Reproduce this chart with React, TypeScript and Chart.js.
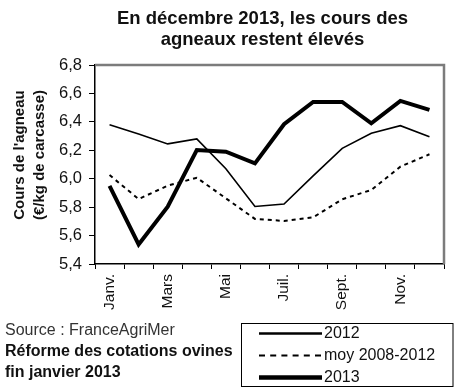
import React, { useEffect, useRef } from 'react';
import { Chart, registerables } from 'chart.js';

Chart.register(...registerables);

const months = ['Janv.', 'Févr.', 'Mars', 'Avr.', 'Mai', 'Juin', 'Juil.', 'Août', 'Sept.', 'Oct.', 'Nov.', 'Déc.'];
const series2012 = [6.38, 6.315, 6.245, 6.28, 6.07, 5.805, 5.822, 6.02, 6.214, 6.32, 6.373, 6.296];
const seriesMoy = [6.026, 5.857, 5.951, 6.007, 5.862, 5.717, 5.703, 5.728, 5.855, 5.921, 6.085, 6.172];
const series2013 = [5.949, 5.538, 5.803, 6.202, 6.19, 6.108, 6.383, 6.54, 6.54, 6.39, 6.547, 6.484];
const seriesNames = ['2012', 'moy 2008-2012', '2013'];
const yMin = 5.4;
const yMax = 6.8;
const yStep = 0.2;
const titleLines = ['En décembre 2013, les cours des', 'agneaux restent élevés'];
const yTitleLines = ["Cours de l'agneau", '(€/kg de carcasse)'];
const sourceLine = 'Source : FranceAgriMer';
const noteLines = ['Réforme des cotations ovines', 'fin janvier 2013'];

const FONT = '"Liberation Sans", Arial, Helvetica, sans-serif';

const legendStyles = [
  { width: 2.5, dash: [] as number[] },
  { width: 2, dash: [6, 5.2] },
  { width: 4.5, dash: [] as number[] },
];

const decorPlugin = {
  id: 'decor',
  beforeDraw(chart: any) {
    const ctx = chart.ctx;
    ctx.save();
    ctx.fillStyle = '#ffffff';
    ctx.fillRect(0, 0, chart.width, chart.height);
    ctx.restore();
  },
  afterDraw(chart: any) {
    const ctx = chart.ctx as CanvasRenderingContext2D;
    const a = chart.chartArea;
    ctx.save();
    // gray frame top & right
    ctx.strokeStyle = '#7c7c7c';
    ctx.lineWidth = 2.5;
    ctx.beginPath();
    ctx.moveTo(a.left, a.top);
    ctx.lineTo(a.right, a.top);
    ctx.lineTo(a.right, a.bottom);
    ctx.stroke();

    // title
    ctx.fillStyle = '#111';
    ctx.font = `bold 18.5px ${FONT}`;
    ctx.textAlign = 'center';
    ctx.textBaseline = 'alphabetic';
    titleLines.forEach((t, i) => ctx.fillText(t, 262.5, 24 + i * 21));

    // y axis title
    ctx.font = `bold 15px ${FONT}`;
    ctx.textBaseline = 'middle';
    const yc = 155;
    [19.5, 40].forEach((x, i) => {
      ctx.save();
      ctx.translate(x, yc);
      ctx.rotate(-Math.PI / 2);
      ctx.fillText(yTitleLines[i], 0, 0);
      ctx.restore();
    });

    // source & note
    ctx.textAlign = 'left';
    ctx.textBaseline = 'alphabetic';
    ctx.fillStyle = '#333';
    ctx.font = `16px ${FONT}`;
    ctx.fillText(sourceLine, 5, 335);
    ctx.fillStyle = '#111';
    ctx.font = `bold 16px ${FONT}`;
    noteLines.forEach((t, i) => ctx.fillText(t, 5, 356 + i * 20.5));

    // legend
    ctx.strokeStyle = '#000';
    ctx.lineWidth = 1;
    ctx.strokeRect(241.5, 323.5, 211.5, 63);
    ctx.font = `16px ${FONT}`;
    ctx.textBaseline = 'middle';
    ctx.fillStyle = '#111';
    seriesNames.forEach((name, i) => {
      const y = 333.5 + i * 22;
      const st = legendStyles[i];
      ctx.beginPath();
      ctx.setLineDash(st.dash);
      ctx.lineWidth = st.width;
      ctx.lineCap = 'butt';
      ctx.moveTo(259, y);
      ctx.lineTo(322, y);
      ctx.stroke();
      ctx.setLineDash([]);
      ctx.fillText(name, 324, y + 0.5);
    });
    ctx.restore();
  },
};

export default function App() {
  const ref = useRef<HTMLCanvasElement | null>(null);

  useEffect(() => {
    const canvas = ref.current;
    if (!canvas) return;
    const chart = new Chart(canvas, {
      type: 'line',
      data: {
        labels: months,
        datasets: [
          {
            label: seriesNames[0],
            data: series2012,
            borderColor: '#000',
            borderWidth: 1.6,
            pointRadius: 0,
            tension: 0,
            fill: false,
            order: 1,
          },
          {
            label: seriesNames[1],
            data: seriesMoy,
            borderColor: '#000',
            borderWidth: 2,
            borderDash: [4, 4],
            pointRadius: 0,
            tension: 0,
            fill: false,
            order: 2,
          },
          {
            label: seriesNames[2],
            data: series2013,
            borderColor: '#000',
            borderWidth: 4,
            pointRadius: 0,
            tension: 0,
            fill: false,
            order: 0,
          },
        ],
      },
      options: {
        animation: false,
        responsive: false,
        devicePixelRatio: 1,
        events: [],
        layout: { padding: { top: 65, right: 10, left: 0, bottom: 0 } },
        plugins: {
          legend: { display: false },
          title: { display: false },
          tooltip: { enabled: false },
        },
        scales: {
          x: {
            type: 'category',
            offset: true,
            afterFit: (s: any) => {
              s.height = 124;
            },
            grid: {
              offset: true,
              drawOnChartArea: false,
              drawTicks: true,
              tickLength: 5,
              color: '#000',
              lineWidth: 1,
            },
            border: { display: true, color: '#000', width: 1.5 },
            ticks: {
              autoSkip: false,
              minRotation: 90,
              maxRotation: 90,
              padding: 5,
              color: '#111',
              font: { family: FONT, size: 15.5 },
              callback: (_v: any, i: number) => (i % 2 === 0 ? months[i] : ''),
            },
          },
          y: {
            min: yMin,
            max: yMax,
            afterFit: (s: any) => {
              s.width = 95;
            },
            grid: {
              drawOnChartArea: false,
              drawTicks: true,
              tickLength: 6,
              color: '#000',
              lineWidth: 1,
            },
            border: { display: true, color: '#000', width: 1.5 },
            ticks: {
              stepSize: yStep,
              padding: 7,
              color: '#111',
              font: { family: FONT, size: 16.5 },
              callback: (v: any) => Number(v).toFixed(1).replace('.', ','),
            },
          },
        },
      },
      plugins: [decorPlugin],
    });
    return () => chart.destroy();
  }, []);

  return (
    <div style={{ position: 'fixed', left: 0, top: 0, width: 454, height: 388, background: '#fff' }}>
      <canvas ref={ref} width={454} height={388} style={{ width: 454, height: 388, display: 'block' }} />
    </div>
  );
}
